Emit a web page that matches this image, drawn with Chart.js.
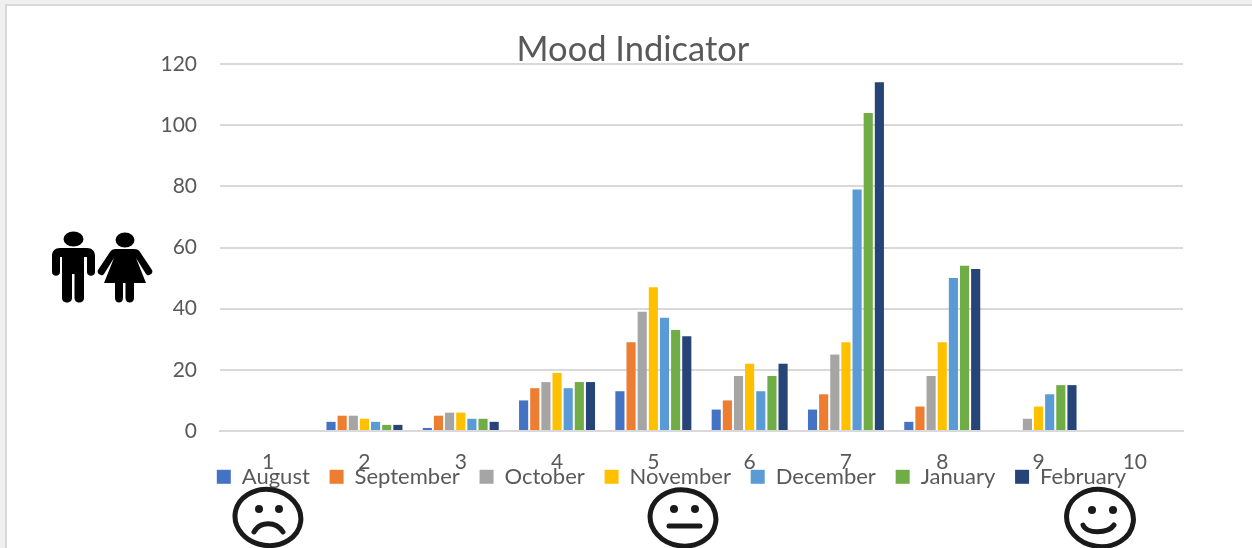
<!DOCTYPE html>
<html>
<head>
<meta charset="utf-8">
<title>Mood Indicator</title>
<script src="https://cdn.jsdelivr.net/npm/chart.js@4/dist/chart.umd.min.js"></script>
<style>
    html, body { margin: 0; padding: 0; width: 1252px; height: 548px; overflow: hidden; background: #f0f0f0; }
    #frame { position: absolute; left: 5px; top: 4px; width: 1247px; height: 544px; box-sizing: border-box; background: #fff; border-left: 2px solid #d9d9d9; border-top: 2px solid #d9d9d9; }
    #wrap { position: absolute; left: 0; top: 0; width: 1252px; height: 548px; }
    svg { position: absolute; overflow: visible; }
</style>
</head>
<body>
<div id="frame"></div>
<div id="wrap"><canvas id="myChart" width="1252" height="548"></canvas></div>

<!-- people icons -->
<svg style="left:0;top:0" width="200" height="320" fill="#000">
    <ellipse cx="73.5" cy="239" rx="10" ry="7.5"/>
    <path d="M60 248H87C92 248 95 251 95 256V272C95 277 87 277 87 272V257H84V298C84 304 74.5 304 74.5 298V274H72V298C72 304 62 304 62 298V257H60V272C60 277 52 277 52 272V256C52 251 55 248 60 248Z"/>
    <ellipse cx="125" cy="240" rx="9.5" ry="7.5"/>
    <path d="M116 249H134C137 249 139 250 140 252L152 270C154 274 148 277 146 274L136 258L146 283H134V298C134 304 125.5 304 125.5 298V283H123V298C123 304 115 304 115 298V283H104L114 258L104 274C102 277 96 274 98 270L110 252C111 250 113 249 116 249Z"/>
</svg>

<!-- smileys -->
<svg style="left:0;top:0" width="1252" height="548" fill="none" stroke="#1a1a1a" stroke-width="5" stroke-linecap="round">
    <ellipse cx="268" cy="517.5" rx="33" ry="28" transform="rotate(8 268 517)"/>
    <circle cx="259" cy="509" r="4" fill="#1a1a1a" stroke="none"/>
    <circle cx="279" cy="509" r="4" fill="#1a1a1a" stroke="none"/>
    <path d="M254 532c6-11 22-11 29 0"/>
    <ellipse cx="683" cy="518" rx="33" ry="28" transform="rotate(8 683 518)"/>
    <circle cx="674" cy="509" r="4" fill="#1a1a1a" stroke="none"/>
    <circle cx="695" cy="509" r="4" fill="#1a1a1a" stroke="none"/>
    <path d="M669 526h31"/>
    <ellipse cx="1100" cy="518" rx="33.5" ry="28.5" transform="rotate(8 1100 518)"/>
    <circle cx="1092" cy="510" r="4" fill="#1a1a1a" stroke="none"/>
    <circle cx="1113" cy="510" r="4" fill="#1a1a1a" stroke="none"/>
    <path d="M1083 525c3 9 25 9 31 0"/>
</svg>

<script>
const categories = ['1', '2', '3', '4', '5', '6', '7', '8', '9', '10'];
const august = [0, 3, 1, 10, 13, 7, 7, 3, 0, 0];
const september = [0, 5, 5, 14, 29, 10, 12, 8, 0, 0];
const october = [0, 5, 6, 16, 39, 18, 25, 18, 4, 0];
const november = [0, 4, 6, 19, 47, 22, 29, 29, 8, 0];
const december = [0, 3, 4, 14, 37, 13, 79, 50, 12, 0];
const january = [0, 2, 4, 16, 33, 18, 104, 54, 15, 0];
const february = [0, 2, 3, 16, 31, 22, 114, 53, 15, 0];

const textColor = '#595959';
const gridColor = '#d9d9d9';
const fontName = 'Lato, "Open Sans", sans-serif';

function serie(label, data, color) {
    return { label: label, data: data, backgroundColor: color, categoryPercentage: 0.81, barPercentage: 0.82 };
}

// legend sits on top of the x labels in the original, chart.js would stack them
const moveLegend = {
    id: 'moveLegend',
    afterLayout(chart) {
        chart.legend.left = 197;
        chart.legend.right = 1252;
        chart.legend.top = 446;
    }
};

const ctx = document.getElementById('myChart').getContext('2d');
const myChart = new Chart(ctx, {
    type: 'bar',
    data: {
        labels: categories,
        datasets: [
            serie('August', august, '#4472c4'),
            serie('September', september, '#ed7d31'),
            serie('October', october, '#a5a5a5'),
            serie('November', november, '#ffc000'),
            serie('December', december, '#5b9bd5'),
            serie('January', january, '#70ad47'),
            serie('February', february, '#264478')
        ]
    },
    plugins: [moveLegend],
    options: {
        responsive: false,
        animation: false,
        layout: { padding: { left: 83, right: 69, top: 30, bottom: 0 } },
        scales: {
            x: {
                afterFit(scale) { scale.height = 65.2; },
                grid: { display: false, drawTicks: false },
                border: { color: gridColor, width: 2 },
                ticks: { color: textColor, font: { family: fontName, size: 21 }, padding: 19, maxRotation: 0 }
            },
            y: {
                min: 0,
                max: 120,
                afterFit(scale) { scale.width = 137; },
                grid: { color: gridColor, lineWidth: 2, drawTicks: false },
                border: { display: false },
                ticks: { stepSize: 20, color: textColor, font: { family: fontName, size: 21 }, padding: 23 }
            }
        },
        plugins: {
            title: {
                display: true,
                text: 'Mood Indicator',
                color: textColor,
                font: { family: fontName, size: 34.5, weight: 'normal', lineHeight: 1 },
                padding: { top: 3, bottom: -3.5 }
            },
            legend: {
                position: 'bottom',
                align: 'start',
                labels: {
                    color: textColor,
                    font: { family: fontName, size: 22 },
                    boxWidth: 14,
                    boxHeight: 14,
                    padding: 19.8
                }
            },
            tooltip: { enabled: false }
        }
    }
});
</script>
</body>
</html>
